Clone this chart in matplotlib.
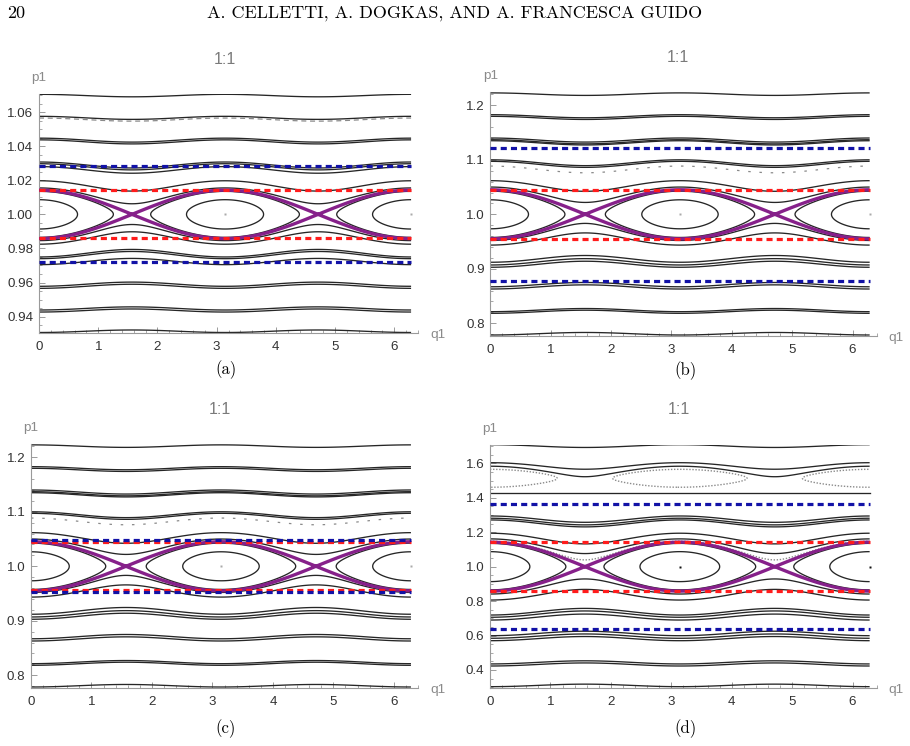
import numpy as np
import matplotlib
matplotlib.use("Agg")
import matplotlib.pyplot as plt
from matplotlib.ticker import MultipleLocator, FormatStrFormatter

# ---------------------------------------------------------------- data
page_number = "20"
running_head = "A. CELLETTI, A. DOGKAS, AND A. FRANCESCA GUIDO"
panel_titles = ["1:1", "1:1", "1:1", "1:1"]
panel_tags = ["(a)", "(b)", "(c)", "(d)"]

q1_limits = (0.0, 6.4)
q1_period = 2 * np.pi
fixed_points_q = [np.pi, 2 * np.pi]
resonance_center = 1.0

p1_limits = [(0.9304, 1.0706), (0.7772, 1.2239), (0.7772, 1.2244), (0.297, 1.708)]
p1_major = [0.02, 0.1, 0.1, 0.2]
p1_minor = [0.005, 0.02, 0.02, 0.05]
p1_format = ["%.2f", "%.1f", "%.1f", "%.1f"]

# separatrix half width at q1 = 0
sep_halfwidth = [0.0142, 0.045, 0.045, 0.142]
red_lines = [[1.0144, 0.9861], [1.0446, 0.9550], [1.0440, 0.9560], [1.143, 0.860]]
blue_lines = [[1.0285, 0.9718], [1.1217, 0.8776], [1.0480, 0.9520], [1.362, 0.640]]

# invariant curves, given by p1 where they cross q1 = 0
orbits_a_upper = [1.0704, 1.0575, 1.0447, 1.0437, 1.0307, 1.0297, 1.0280, 1.0197, 1.0155]
orbits_a_lower = [0.9846, 0.9825, 0.9750, 0.9740, 0.9705, 0.9578, 0.9566, 0.9439, 0.9427, 0.9307]
orbits_a_inner = [1.0086, 1.0135]
orbits_a_dashed = [1.0565]

orbits_bc_upper = [1.2228, 1.1828, 1.1798, 1.1400, 1.1369, 1.1350, 1.1000, 1.0972, 1.0617, 1.0500]
orbits_bc_lower = [0.9520, 0.9435, 0.9120, 0.9070, 0.9028, 0.8670, 0.8629, 0.8213, 0.8183, 0.7785]
orbits_bc_inner = [1.0266, 1.0425]
orbits_bc_dashed = [1.0885]

orbits_d_upper = [1.2940, 1.2810, 1.2710, 1.1940, 1.1610]
orbits_d_lower = [0.8410, 0.8060, 0.7190, 0.7060, 0.6900, 0.5990, 0.5840, 0.5700, 0.4350, 0.4230, 0.3030]
orbits_d_inner = [1.087, 1.135]
orbits_d_dotted = [1.1473]
orbits_d_flat = [1.426]
upper_d_limit = 1.44

# secondary island chain of panel (d)
islands_d_center = 1.513
islands_d_halfwidth = 0.058
islands_d_orbits = [1.565]
outer_d_center = 1.50
outer_d_halfwidth = 0.08
outer_d_orbits = [1.708, 1.6035, 1.583]

panel_upper = [orbits_a_upper, orbits_bc_upper, orbits_bc_upper, orbits_d_upper]
panel_lower = [orbits_a_lower, orbits_bc_lower, orbits_bc_lower, orbits_d_lower]
panel_inner = [orbits_a_inner, orbits_bc_inner, orbits_bc_inner, orbits_d_inner]
panel_dashed = [orbits_a_dashed, orbits_bc_dashed, orbits_bc_dashed, []]

# ---------------------------------------------------------------- layout
FIG_W, FIG_H = 910, 746
# axes boxes in pixels: left, top, right, bottom
boxes = [(39, 94, 418, 333), (490.3, 92.3, 876.7, 335.7),
         (31, 444, 418, 687.7), (490, 444.7, 876.7, 687.7)]
title_xy = [(225, 60), (678, 57), (220, 409), (679, 409)]
tag_xy = [(226, 370), (686, 371), (226, 729), (686, 729)]

ORBIT = "#262626"
GREY = "#8a8a8a"
PURPLE = "#86208a"
RED = "#ff1c1c"
BLUE = "#1212a6"
AXIS = "#9a9a9a"
SANS = "Liberation Sans"
SERIF = "cmr10"


def fx(x):
    return x / FIG_W


def fy(y):
    return 1 - y / FIG_H


def level_curves(ax, p0_list, center, halfwidth, p_lo, p_hi, color, lw, dash=None, z=2):
    if not p0_list:
        return
    eps = halfwidth ** 2 / 4
    q = np.linspace(0, q1_period, 1400)
    p = np.linspace(p_lo, p_hi, 900)
    Q, P = np.meshgrid(q, p)
    Z = 0.5 * (P - center) ** 2 - eps * np.cos(2 * Q)
    levels = sorted({0.5 * (p0 - center) ** 2 - eps for p0 in p0_list})
    cs = ax.contour(Q, P, Z, levels=levels, colors=color, linewidths=lw, zorder=z,
                    linestyles="solid", negative_linestyles="solid")
    if dash is not None:
        cs.set_linestyle(dash)


fig = plt.figure(figsize=(FIG_W / 100, FIG_H / 100), dpi=100)

fig.text(fx(7), fy(13), page_number, family=SERIF, fontsize=13, ha="left", va="center")
fig.text(fx(455), fy(13), running_head, family=SERIF, fontsize=13, ha="center", va="center")

for k in range(4):
    left, top, right, bottom = boxes[k]
    ax = fig.add_axes([fx(left), fy(bottom), (right - left) / FIG_W, (bottom - top) / FIG_H])
    lo, hi = p1_limits[k]
    h = sep_halfwidth[k]
    c = resonance_center
    top_main = upper_d_limit if k == 3 else hi

    level_curves(ax, panel_upper[k], c, h, c, top_main, ORBIT, 0.95)
    level_curves(ax, panel_lower[k], c, h, lo, c, ORBIT, 0.95)
    level_curves(ax, panel_inner[k], c, h, c - 1.1 * h, c + 1.1 * h, ORBIT, 0.95)
    level_curves(ax, panel_dashed[k], c, h, c, hi, GREY, 0.9, dash=(0, (4, 3)) if k == 0 else (0, (2, 7)))
    if k == 3:
        level_curves(ax, orbits_d_dotted, c, h, c, top_main, GREY, 1.0, dash=(0, (1, 1.2)))
        level_curves(ax, outer_d_orbits, outer_d_center, outer_d_halfwidth, outer_d_center, hi, ORBIT, 0.95)
        level_curves(ax, islands_d_orbits, islands_d_center, islands_d_halfwidth,
                     islands_d_center - 1.3 * islands_d_halfwidth,
                     islands_d_center + 1.3 * islands_d_halfwidth, GREY, 1.0, dash=(0, (1, 1.2)))
        for pf in orbits_d_flat:
            ax.plot([0, q1_period], [pf, pf], color=ORBIT, lw=0.95, zorder=2)

    # separatrix
    level_curves(ax, [c + h], c, h, c - 1.3 * h, c + 1.3 * h, PURPLE, 2.4, z=3)

    for pr in red_lines[k]:
        ax.plot([0, q1_period], [pr, pr], color=RED, lw=2.3, dashes=(1.9, 1.3), zorder=4)
    for pb in blue_lines[k]:
        ax.plot([0, q1_period], [pb, pb], color=BLUE, lw=2.3, dashes=(1.9, 1.3), zorder=4)

    ax.plot(fixed_points_q, [c] * len(fixed_points_q), ls="none", marker="s", ms=1.6,
            mec="none", mfc="#111111" if k == 3 else "#aaaaaa", zorder=5)

    ax.set_xlim(*q1_limits)
    ax.set_ylim(lo, hi)
    ax.set_facecolor("none")
    for s in ("top", "right"):
        ax.spines[s].set_visible(False)
    for s in ("left", "bottom"):
        ax.spines[s].set_color(AXIS)
        ax.spines[s].set_linewidth(0.8)
    ax.xaxis.set_major_locator(MultipleLocator(1))
    ax.xaxis.set_minor_locator(MultipleLocator(0.2))
    ax.yaxis.set_major_locator(MultipleLocator(p1_major[k]))
    ax.yaxis.set_minor_locator(MultipleLocator(p1_minor[k]))
    ax.yaxis.set_major_formatter(FormatStrFormatter(p1_format[k]))
    ax.xaxis.set_major_formatter(FormatStrFormatter("%d"))
    ax.tick_params(which="major", direction="in", length=4, width=0.7, color=AXIS,
                   labelsize=9.6, labelcolor="#333333")
    ax.tick_params(which="minor", direction="in", length=2, width=0.6, color=AXIS)
    ax.tick_params(axis="x", pad=6)
    ax.tick_params(axis="y", pad=4)
    for lab in ax.get_xticklabels() + ax.get_yticklabels():
        lab.set_family(SANS)

    fig.text(fx(left), fy(top - 16), "p1", family=SANS, fontsize=9.7, color="#8a8a8a",
             ha="center", va="center")
    fig.text(fx(right + 12), fy(bottom + 2), "q1", family=SANS, fontsize=9.7, color="#8a8a8a",
             ha="left", va="center")
    tx, ty = title_xy[k]
    fig.text(fx(tx), fy(ty), panel_titles[k], family=SANS, fontsize=11.5, color="#7a7a7a",
             ha="center", va="center")
    gx, gy = tag_xy[k]
    fig.text(fx(gx), fy(gy), panel_tags[k], family=SERIF, fontsize=12, ha="center", va="center")

fig.savefig("out.png", dpi=100)
